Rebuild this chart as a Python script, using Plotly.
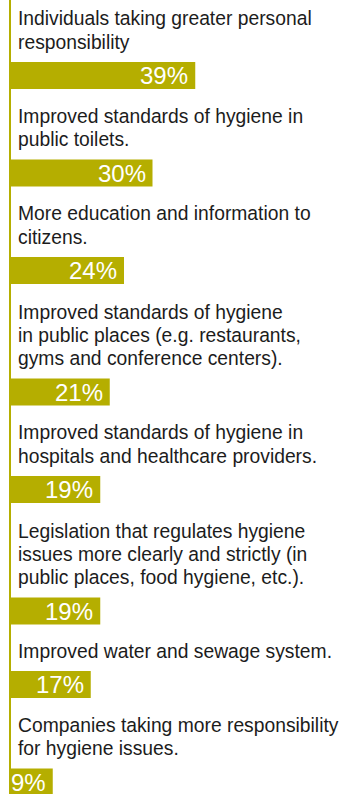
import plotly.graph_objects as go

# Survey answers: each label is split into its printed lines
labels = [
    ["Individuals taking greater personal", "responsibility"],
    ["Improved standards of hygiene in", "public toilets."],
    ["More education and information to", "citizens."],
    ["Improved standards of hygiene", "in public places (e.g. restaurants,", "gyms and conference centers)."],
    ["Improved standards of hygiene in", "hospitals and healthcare providers."],
    ["Legislation that regulates hygiene", "issues more clearly and strictly (in", "public places, food hygiene, etc.)."],
    ["Improved water and sewage system."],
    ["Companies taking more responsibility", "for hygiene issues."],
]
values = [39, 30, 24, 21, 19, 19, 17, 9]

OLIVE = "#B5AE00"
TEXT = "#1c1c1c"
FONT = "Liberation Sans, Arial, Helvetica, sans-serif"
W, H = 352, 794

LABEL_SIZE = 19.3
VALUE_SIZE = 24
BAR_H = 27          # bar thickness (px)
BLOCK_BASE = 49.5   # vertical space of a block besides its text lines
BLOCK_LINE = 24     # extra space per text line in a block
TEXT_PITCH = 23.4   # baseline-to-baseline distance inside a label
TEXT_GAP = 13       # last baseline to bar top
PX_PER_PCT = 4.75
LEFT = 10           # x pixel of the zero line

# stack the blocks from the top: text lines, then the bar
bar_tops = []
y = 62 - (BLOCK_BASE + BLOCK_LINE * len(labels[0]))
for lines in labels:
    y += BLOCK_BASE + BLOCK_LINE * len(lines)
    bar_tops.append(y)
centers = [t + BAR_H / 2 for t in bar_tops]

fig = go.Figure(
    go.Bar(
        x=values,
        y=centers,
        orientation="h",
        width=BAR_H,
        marker=dict(color=OLIVE, line=dict(width=0)),
        hoverinfo="skip",
    )
)

annotations = []
for lines, top in zip(labels, bar_tops):
    n = len(lines)
    for i, line in enumerate(lines):
        baseline = top - TEXT_GAP - TEXT_PITCH * (n - 1 - i)
        annotations.append(dict(
            x=0, xref="x", y=baseline - 0.3465 * LABEL_SIZE, yref="y",
            text=line, showarrow=False, xanchor="left", yanchor="middle",
            xshift=6, font=dict(family=FONT, size=LABEL_SIZE, color=TEXT),
        ))

for v, c in zip(values, centers):
    annotations.append(dict(
        x=v, xref="x", y=c + 0.3, yref="y",
        text=f"{v}%", showarrow=False, xanchor="right", yanchor="middle",
        xshift=-5, font=dict(family=FONT, size=VALUE_SIZE, color="white"),
    ))

fig.update_layout(
    width=W, height=H,
    margin=dict(l=0, r=0, t=0, b=0),
    paper_bgcolor="white", plot_bgcolor="white",
    showlegend=False,
    xaxis=dict(range=[-LEFT / PX_PER_PCT, (W - LEFT) / PX_PER_PCT], visible=False, fixedrange=True),
    yaxis=dict(range=[H, 0], visible=False, fixedrange=True),
    annotations=annotations,
    shapes=[dict(type="line", xref="x", yref="paper", x0=0, x1=0, y0=0, y1=1,
                 line=dict(color=OLIVE, width=2), layer="below")],
)

fig.write_html("out.html", config={"displayModeBar": False})
